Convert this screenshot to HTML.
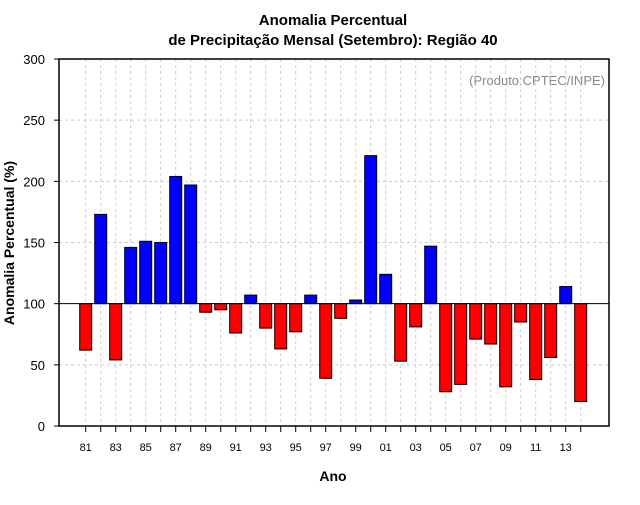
<!DOCTYPE html>
<html><head><meta charset="utf-8"><style>
body{margin:0;background:#fff;font-family:"Liberation Sans",sans-serif}
</style></head><body>
<svg width="640" height="500" xmlns="http://www.w3.org/2000/svg" font-family="Liberation Sans, sans-serif">
<rect width="640" height="500" fill="#fff"/>
<text x="333" y="25" text-anchor="middle" font-size="15" font-weight="bold">Anomalia Percentual</text>
<text x="333" y="45" text-anchor="middle" font-size="15" font-weight="bold">de Precipitação Mensal (Setembro): Região 40</text>
<text x="605" y="85" text-anchor="end" font-size="13" fill="#888">(Produto:CPTEC/INPE)</text>
<text x="333" y="481" text-anchor="middle" font-size="14" font-weight="bold">Ano</text>
<text transform="translate(14,243) rotate(-90)" text-anchor="middle" font-size="14" font-weight="bold">Anomalia Percentual (%)</text>
<g id="grid"></g><g id="bars"></g><g id="axes"></g>
</svg>
<script>
const years=[1981,1982,1983,1984,1985,1986,1987,1988,1989,1990,1991,1992,1993,1994,1995,1996,1997,1998,1999,2000,2001,2002,2003,2004,2005,2006,2007,2008,2009,2010,2011,2012,2013,2014];
const values=[62,173,54,146,151,150,204,197,93,95,76,107,80,63,77,107,39,88,103,221,124,53,81,147,28,34,71,67,32,85,38,56,114,20];
const yTicks=[0,50,100,150,200,250,300];
const NS="http://www.w3.org/2000/svg";
const L=59,R=609,T=59,B=426;
const y=v=>B-(v/300)*(B-T);
const x=yr=>85.7+(yr-1981)*15;
function mk(tag,attrs,parent,text){const e=document.createElementNS(NS,tag);for(const k in attrs)e.setAttribute(k,attrs[k]);if(text!==undefined)e.textContent=text;parent.appendChild(e);return e;}
const grid=document.getElementById('grid'),bars=document.getElementById('bars'),axes=document.getElementById('axes');
yTicks.forEach(t=>{
 if(t>0&&t<300){const g=mk('line',{x1:L,x2:R,y1:y(t),y2:y(t),stroke:'#ccc','stroke-dasharray':'3,3'},grid);
 
 }
 const tk=mk('line',{x1:L-5,x2:L,y1:y(t),y2:y(t),stroke:'#000'},axes);
 
 
 const lb=mk('text',{x:L-14,y:y(t)+5,'text-anchor':'end','font-size':'13'},axes,String(t));
 
 
});
years.forEach((yr,i)=>{
 const cx=x(yr);
 const g=mk('line',{x1:cx,x2:cx,y1:T,y2:B,stroke:'#ccc','stroke-dasharray':'3,3'},grid);
 
 
 const tk=mk('line',{x1:cx,x2:cx,y1:B,y2:B+6,stroke:'#000'},axes);
 
 
 if(yr%2===1){const lb=mk('text',{x:cx,y:B+25,'text-anchor':'middle','font-size':'11'},axes,String(yr).slice(2));
 
 }
 const v=values[i];
 const top=Math.min(y(v),y(100)),h=Math.abs(y(v)-y(100));
 const b=mk('rect',{x:cx-6,y:top,width:12,height:h,fill:v>=100?'#0000ff':'#ff0000',stroke:'#000','stroke-width':1},bars);
 
 
});
const base=mk('line',{x1:L,x2:R,y1:y(100),y2:y(100),stroke:'#000'},axes);


const box=mk('rect',{x:L,y:T,width:R-L,height:B-T,fill:'none',stroke:'#000','stroke-width':1.5},axes);


</script>
</body></html>
